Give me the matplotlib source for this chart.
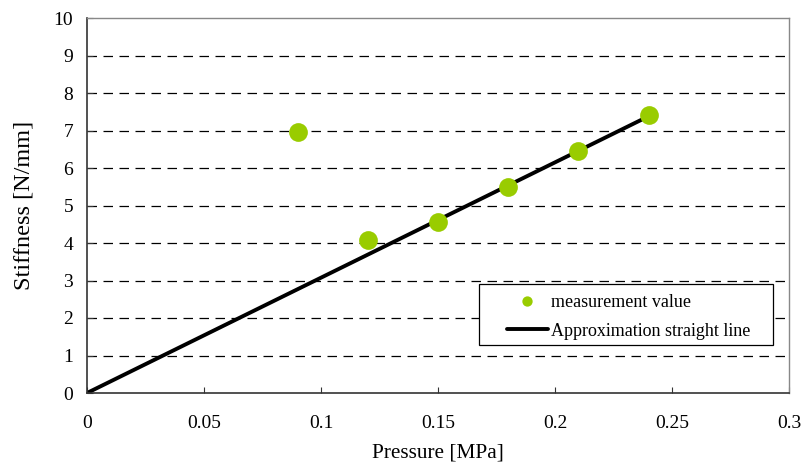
import matplotlib
matplotlib.use("Agg")
import matplotlib.pyplot as plt
from matplotlib.patches import Rectangle

plt.rcParams['font.family'] = ['Liberation Serif', 'DejaVu Serif']

pressure = [0.09, 0.12, 0.15, 0.18, 0.21, 0.24]
stiffness = [6.96, 4.08, 4.56, 5.50, 6.46, 7.41]
line_x = [0.0, 0.24]
line_y = [0.0, 7.38]
xticks = [0, 0.05, 0.1, 0.15, 0.2, 0.25, 0.3]
xticklabels = ['0', '0.05', '0.1', '0.15', '0.2', '0.25', '0.3']
yticks = list(range(0, 11))

fig = plt.figure(figsize=(8.02, 4.67), dpi=100)
ax = fig.add_axes([87/802, 1 - 393/467, (789-87)/802, (393-18)/467])

ax.plot(line_x, line_y, color='black', lw=2.8, solid_capstyle='round',
        label='Approximation straight line', zorder=2)
ax.plot(pressure, stiffness, 'o', color='#99CC00', markersize=13.5,
        markeredgewidth=0, label='measurement value', zorder=3)

ax.set_xlim(0, 0.3)
ax.set_ylim(0, 10)
ax.set_xticks(xticks)
ax.set_xticklabels(xticklabels)
ax.set_yticks(yticks)
for y in yticks[1:-1]:
    ax.axhline(y, color='black', lw=0.9, dashes=(7.6, 5.2), zorder=1)

for s in ['left', 'bottom']:
    ax.spines[s].set_color('#333333')
    ax.spines[s].set_linewidth(1.2)
for s in ['top', 'right']:
    ax.spines[s].set_color('#888888')
    ax.spines[s].set_linewidth(1.0)

ax.tick_params(axis='x', direction='in', length=4, labelsize=14, pad=16, colors='#333333', labelcolor='black')
ax.tick_params(axis='y', direction='in', length=4, labelsize=14, pad=10, colors='#333333', labelcolor='black')

ax.set_xlabel('Pressure [MPa]', fontsize=15.3, labelpad=8)
ax.set_ylabel('Stiffness [N/mm]', fontsize=17.5, labelpad=14)

# legend box
ax.add_patch(Rectangle(((479-87)/702, (393-345)/375), (773-479)/702, (345-284)/375,
                       transform=ax.transAxes, facecolor='white', edgecolor='black',
                       lw=0.9, zorder=4))
handles, labels = ax.get_legend_handles_labels()
leg = ax.legend(handles[::-1], labels[::-1], loc='center left',
                bbox_to_anchor=((507-87)/702, (393-317)/375),
                fontsize=13, frameon=False, borderaxespad=0, borderpad=0,
                handlelength=2.27, markerscale=0.55, handletextpad=0.15,
                labelspacing=0.62)
leg.set_zorder(5)

fig.savefig('out.png', dpi=100)
